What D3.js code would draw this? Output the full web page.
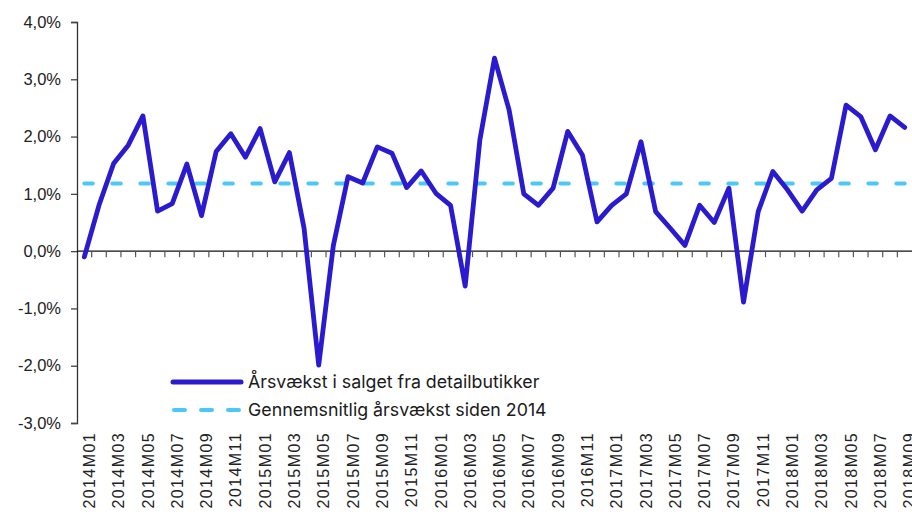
<!DOCTYPE html>
<meta charset="utf-8">
<style>
  body { margin: 0; background: #fff; }
  svg { display: block; }
</style>
<body>
<div id="chart"></div>
<script src="https://d3js.org/d3.v7.min.js"></script>
<script>

// months 2014M01 .. 2018M09
const months = ["2014M01","2014M02","2014M03","2014M04","2014M05","2014M06","2014M07","2014M08","2014M09","2014M10","2014M11","2014M12",
  "2015M01","2015M02","2015M03","2015M04","2015M05","2015M06","2015M07","2015M08","2015M09","2015M10","2015M11","2015M12",
  "2016M01","2016M02","2016M03","2016M04","2016M05","2016M06","2016M07","2016M08","2016M09","2016M10","2016M11","2016M12",
  "2017M01","2017M02","2017M03","2017M04","2017M05","2017M06","2017M07","2017M08","2017M09","2017M10","2017M11","2017M12",
  "2018M01","2018M02","2018M03","2018M04","2018M05","2018M06","2018M07","2018M08","2018M09"];

// yearly growth in retail sales (%)
const growth = [-0.10, 0.80, 1.53, 1.85, 2.36, 0.70, 0.83, 1.52, 0.62, 1.74, 2.05, 1.64,
  2.14, 1.21, 1.72, 0.40, -1.99, 0.10, 1.30, 1.19, 1.82, 1.71, 1.11, 1.40,
  1.01, 0.80, -0.61, 1.94, 3.37, 2.46, 1.00, 0.80, 1.10, 2.09, 1.68, 0.51,
  0.80, 1.00, 1.91, 0.69, 0.40, 0.10, 0.80, 0.50, 1.10, -0.89, 0.69, 1.39,
  1.07, 0.70, 1.07, 1.27, 2.55, 2.35, 1.77, 2.36, 2.16];

// average growth since 2014 (%)
const avgGrowth = 1.18;

const yTicks = [-3, -2, -1, 0, 1, 2, 3, 4];

const seriesNames = ["Årsvækst i salget fra detailbutikker", "Gennemsnitlig årsvækst siden 2014"];

const W = 912, H = 515;
const margin = {left: 77, right: 912, top: 22, bottom: 423};

const svg = d3.select("#chart").append("svg")
  .attr("width", W).attr("height", H);

const x = d3.scaleBand().domain(months).range([margin.left, margin.right]).padding(0);
const y = d3.scaleLinear().domain([-3, 4]).range([margin.bottom, margin.top]);
const cx = d => x(d) + x.bandwidth() / 2;

// y axis
const yAxis = svg.append("g")
  .attr("transform", `translate(${margin.left},0)`)
  .call(d3.axisLeft(y).tickValues(yTicks).tickSize(6).tickPadding(10)
    .tickFormat(d => d3.format(".1f")(d).replace(".", ",").replace("−", "-") + "%"));
yAxis.select(".domain").attr("stroke", "#333").attr("stroke-width", 1.3);
yAxis.selectAll(".tick line").attr("stroke", "#444").attr("stroke-width", 1.3);
yAxis.selectAll(".tick text")
  .attr("font-family", "'Liberation Sans', Arial, sans-serif")
  .attr("font-size", 16.5).attr("fill", "#222");

// x axis on zero line: ticks at month boundaries
const xg = svg.append("g");
xg.append("line")
  .attr("x1", margin.left).attr("x2", margin.right)
  .attr("y1", y(0)).attr("y2", y(0))
  .attr("stroke", "#111").attr("stroke-width", 1.3);
xg.selectAll("line.tk")
  .data(months.slice(1))
  .join("line")
  .attr("class", "tk")
  .attr("x1", d => x(d)).attr("x2", d => x(d))
  .attr("y1", y(0)).attr("y2", y(0) + 6)
  .attr("stroke", "#555").attr("stroke-width", 1.2);

// labels for every second month
svg.append("g").selectAll("text")
  .data(months.filter((d, i) => i % 2 === 0))
  .join("text")
  .attr("transform", d => `translate(${cx(d) + 5},432) rotate(-90)`)
  .attr("text-anchor", "end")
  .attr("dy", "0.35em")
  .attr("font-family", "'Liberation Sans', Arial, sans-serif")
  .attr("font-size", 16)
  .attr("letter-spacing", 1.4)
  .attr("fill", "#222")
  .text(d => d);

// average line
svg.append("line")
  .attr("x1", cx(months[0])).attr("x2", cx(months[months.length - 1]))
  .attr("y1", y(avgGrowth)).attr("y2", y(avgGrowth))
  .attr("stroke", "#4cc8f6").attr("stroke-width", 4)
  .attr("stroke-linecap", "round")
  .attr("stroke-dasharray", "8.5 19.5");

// growth line
const line = d3.line()
  .x((d, i) => cx(months[i]))
  .y(d => y(d));
svg.append("path")
  .datum(growth)
  .attr("d", line)
  .attr("fill", "none")
  .attr("stroke", "#2b1bcf")
  .attr("stroke-width", 4.8)
  .attr("stroke-linejoin", "round")
  .attr("stroke-linecap", "round");

// legend
const legend = svg.append("g");
legend.append("line")
  .attr("x1", 173).attr("x2", 241).attr("y1", 382).attr("y2", 382)
  .attr("stroke", "#2b1bcf").attr("stroke-width", 5).attr("stroke-linecap", "round");
legend.append("line")
  .attr("x1", 174).attr("x2", 241).attr("y1", 410).attr("y2", 410)
  .attr("stroke", "#4cc8f6").attr("stroke-width", 4).attr("stroke-linecap", "round")
  .attr("stroke-dasharray", "11 16");
legend.selectAll("text")
  .data(seriesNames)
  .join("text")
  .attr("x", 248)
  .attr("y", (d, i) => 382 + i * 28)
  .attr("dy", "0.35em")
  .attr("font-family", "Inter, 'Noto Sans', sans-serif")
  .attr("font-size", 17.8)
  .attr("fill", "#1a1a1a")
  .text(d => d);

</script>
</body>
